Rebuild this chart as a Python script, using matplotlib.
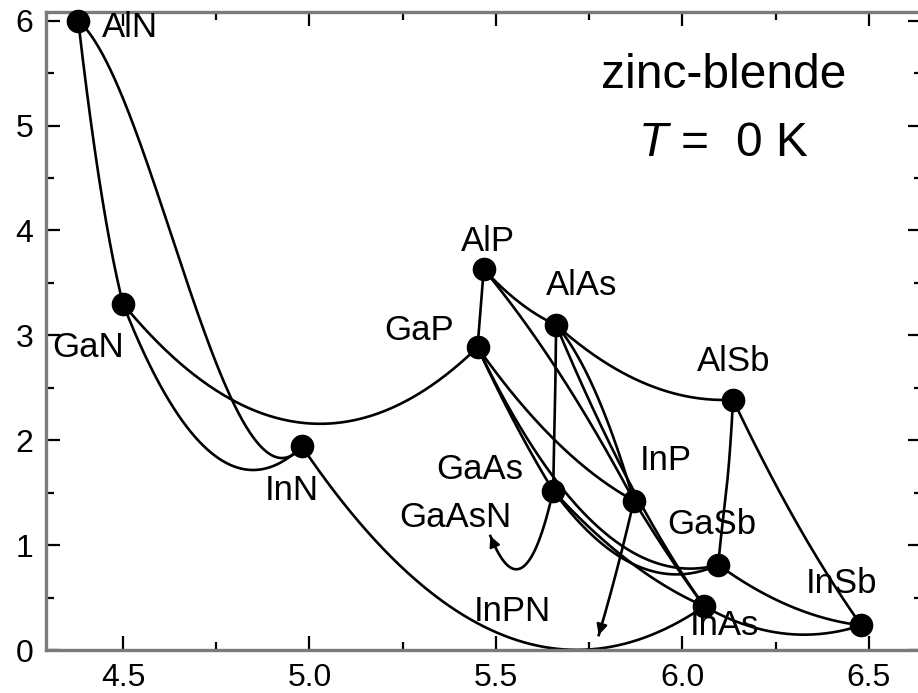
import numpy as np
import matplotlib.pyplot as plt
from matplotlib.ticker import MultipleLocator, FormatStrFormatter

plt.rcParams['font.family'] = ['Liberation Sans', 'DejaVu Sans']
plt.rcParams['mathtext.fontset'] = 'custom'
plt.rcParams['mathtext.it'] = 'Liberation Sans:italic'
plt.rcParams['mathtext.rm'] = 'Liberation Sans'

# binary compounds, zinc-blende, T = 0 K
names = ['AlN', 'GaN', 'InN', 'AlP', 'GaP', 'InP',
         'AlAs', 'GaAs', 'InAs', 'AlSb', 'GaSb', 'InSb']
lattice = [4.38, 4.50, 4.98, 5.4672, 5.4505, 5.8697,
           5.6611, 5.6533, 6.0583, 6.1355, 6.0959, 6.4794]   # Angstrom
gap = [6.0, 3.30, 1.94, 3.63, 2.886, 1.4236,
       3.099, 1.519, 0.417, 2.386, 0.812, 0.235]              # eV

# ternary alloys A(1-x)B(x): bowing b = bow0 + bow1*x, curve drawn up to x_end
alloy_a = ['AlN', 'AlN', 'GaN', 'GaN', 'InN', 'GaP', 'AlP', 'AlP',
           'AlAs', 'AlAs', 'AlAs', 'GaAs', 'GaP', 'GaP', 'GaP', 'GaAs',
           'GaAs', 'InP', 'GaSb', 'AlSb', 'GaSb', 'InAs', 'GaAs', 'InP']
alloy_b = ['GaN', 'InN', 'InN', 'GaP', 'InAs', 'AlP', 'AlAs', 'InP',
           'AlSb', 'InAs', 'InP', 'AlAs', 'GaAs', 'InP', 'GaSb', 'InAs',
           'GaSb', 'InAs', 'AlSb', 'InSb', 'InSb', 'InSb', 'GaN', 'InN']
bow0 = [1.0, -2.2, 3.0, 3.7, 4.15, 0.0, 0.22, -0.48,
        0.8, 0.70, -0.83, -0.127, 0.19, 0.65, 2.7, 0.477,
        1.43, 0.10, -0.044, 0.43, 0.415, 0.67, 20.0, 14.1]
bow1 = [0.0, 8.8, 0.0, 0.0, 0.0, 0.0, 0.0, 0.0,
        0.0, 0.0, 0.0, 1.31, 0.0, 0.0, 0.0, 0.0,
        0.0, 0.0, 1.22, 0.0, 0.0, 0.0, -99.0, 0.0]
x_end = [1] * 22 + [0.146, 0.106]

fig = plt.figure(figsize=(9.18, 6.93), dpi=100)
ax = fig.add_axes([46 / 918, 43 / 693, 876 / 918, 638 / 693])

for A, B, b0, b1, xe in zip(alloy_a, alloy_b, bow0, bow1, x_end):
    i, j = names.index(A), names.index(B)
    x = np.linspace(0, xe, 300)
    a = (1 - x) * lattice[i] + x * lattice[j]
    e = (1 - x) * gap[i] + x * gap[j] - (b0 + b1 * x) * x * (1 - x)
    ax.plot(a, e, color='k', lw=1.9)
    if xe < 1:
        # dilute nitrides end in an arrow
        ax.annotate('', xy=(a[-1], e[-1]), xytext=(a[-12], e[-12]),
                    arrowprops=dict(arrowstyle='-|>', color='k', lw=1.6,
                                    mutation_scale=16, shrinkA=0, shrinkB=0))

ax.plot(lattice, gap, 'o', color='k', ms=16, zorder=3, clip_on=False)

# label positions (left edge / vertical centre)
label_pos = {'AlN': (4.444, 5.93), 'GaN': (4.31, 2.88), 'InN': (4.881, 1.52),
             'AlP': (5.405, 3.89), 'GaP': (5.20, 3.05), 'InP': (5.885, 1.81),
             'AlAs': (5.635, 3.47), 'GaAs': (5.34, 1.72), 'InAs': (6.02, 0.23),
             'AlSb': (6.04, 2.75), 'GaSb': (5.96, 1.20), 'InSb': (6.33, 0.63),
             'GaAsN': (5.24, 1.26), 'InPN': (5.44, 0.37)}
for lab, (lx, ly) in label_pos.items():
    ax.text(lx, ly, lab, fontsize=25, ha='left', va='center')

ax.text(6.11, 5.48, 'zinc-blende', fontsize=34.5, ha='center', va='center')
ax.text(6.11, 4.83, '$T$ =  0 K', fontsize=34.5, ha='center', va='center')

ax.set_xlim(4.2936, 6.6421)
ax.set_ylim(0, 6.082)
ax.xaxis.set_major_locator(MultipleLocator(0.5))
ax.xaxis.set_minor_locator(MultipleLocator(0.25))
ax.yaxis.set_major_locator(MultipleLocator(1))
ax.yaxis.set_minor_locator(MultipleLocator(0.5))
ax.xaxis.set_major_formatter(FormatStrFormatter('%.1f'))
ax.yaxis.set_major_formatter(FormatStrFormatter('%d'))
ax.tick_params(which='both', direction='in', top=True, right=True,
               color='k', width=1.6, labelsize=23)
ax.tick_params(which='major', length=10, pad=9)
ax.tick_params(which='minor', length=5.5)
for s in ax.spines.values():
    s.set_color('#7a7a7a')
    s.set_linewidth(2.4)

fig.savefig('out.png', dpi=100)
